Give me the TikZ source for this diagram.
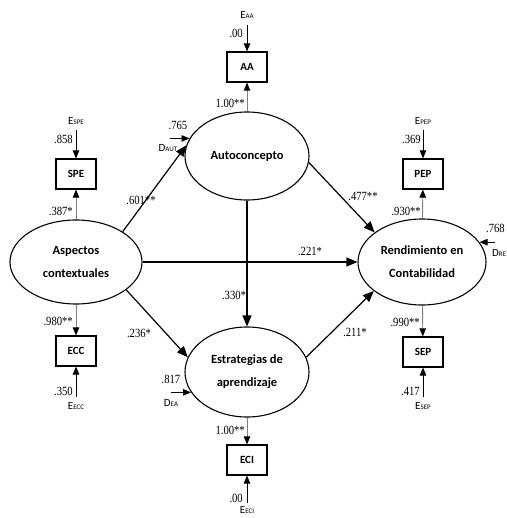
\documentclass[tikz,border=0pt]{standalone}
\usepackage{fontspec}
\setmainfont[FakeStretch=0.85]{Liberation Serif}
\newfontfamily\latfont{Carlito}
\usepackage{tikz}
\usetikzlibrary{shapes.geometric, arrows.meta, positioning}
\newcommand{\subl}[1]{{\fontsize{7}{7}\selectfont #1}}
\tikzstyle{latent} = [ellipse, draw=black, line width=1.1pt, inner sep=0pt, align=center, font=\latfont\bfseries\fontsize{12.5}{23}\selectfont]
\tikzstyle{observed} = [rectangle, draw=black, line width=1.2pt, minimum width=40pt, minimum height=30pt, inner sep=0pt, font=\latfont\bfseries\fontsize{11}{12}\selectfont]
\tikzstyle{arrow} = [line width=1.2pt, -{Triangle[length=11pt,width=9pt]}]
\tikzstyle{loading} = [draw=gray, line width=0.9pt, -{Triangle[length=8pt,width=6.5pt,color=black]}]
\tikzstyle{errarrow} = [line width=0.8pt, -{Triangle[length=8pt,width=6.5pt]}]
\tikzstyle{coef} = [inner sep=0pt, font=\fontsize{12.5}{13}\selectfont]
\tikzstyle{elabel} = [inner sep=0pt, font=\latfont\fontsize{11}{12}\selectfont]

\begin{document}
\begin{tikzpicture}[x=1pt, y=-1pt]
\useasboundingbox (0,0) rectangle (506,518);

% latent variables
\node (asp) [latent, minimum width=132pt, minimum height=84pt] at (76,262) {Aspectos\\contextuales};
\node (auto) [latent, minimum width=124pt, minimum height=88pt] at (247,156) {Autoconcepto};
\node (estr) [latent, minimum width=124pt, minimum height=90pt] at (247,372) {Estrategias de\\aprendizaje};
\node (rend) [latent, minimum width=128pt, minimum height=86pt] at (422,262) {Rendimiento en\\Contabilidad};

% indicators
\node (aa) [observed] at (247,67) {AA};
\node (spe) [observed] at (76,174) {SPE};
\node (pep) [observed] at (423,174) {PEP};
\node (ecc) [observed] at (76,351) {ECC};
\node (sep) [observed] at (423,352) {SEP};
\node (eci) [observed] at (247,460) {ECI};

% structural paths
\draw [arrow] (asp.33) -- (auto.170);
\draw [arrow] (asp) -- (rend);
\draw [arrow] (asp.-29) -- (estr.166);
\draw [arrow] (auto) -- (estr);
\draw [arrow] (auto.-6) -- (rend.148);
\draw [arrow] (estr.14) -- (rend.211);

\node (p1) [coef] at (141,200) {.601**};
\node (p2) [coef] at (310,251) {.221*};
\node (p3) [coef] at (139,333) {.236*};
\node (p4) [coef] at (234,295) {.330*};
\node (p5) [coef] at (363,196) {.477**};
\node (p6) [coef] at (355,332) {.211*};

% loadings
\draw [loading] (auto) -- (aa);
\draw [loading] (asp) -- (spe);
\draw [loading] (rend) -- (pep);
\draw [loading] (asp) -- (ecc);
\draw [loading] (rend) -- (sep);
\draw [loading] (estr) -- (eci);

\node (laa) [coef, anchor=east] at (245,103) {1.00**};
\node (lspe) [coef, anchor=east] at (73,211) {.387*};
\node (lpep) [coef, anchor=east] at (421,211) {.930**};
\node (lecc) [coef, anchor=east] at (73,321) {.980**};
\node (lsep) [coef, anchor=east] at (420,322) {.990**};
\node (leci) [coef, anchor=east] at (245,430) {1.00**};

% measurement errors
\coordinate (eaa) at (247,25);
\coordinate (espe) at (76,130);
\coordinate (epep) at (423,130);
\coordinate (eecc) at (76,397);
\coordinate (esep) at (423,397);
\coordinate (eeci) at (247,503);

\draw [errarrow] (eaa) -- (aa);
\draw [errarrow] (espe) -- (spe);
\draw [errarrow] (epep) -- (pep);
\draw [errarrow] (eecc) -- (ecc);
\draw [errarrow] (esep) -- (sep);
\draw [errarrow] (eeci) -- (eci);

\node (eaalab) [elabel, above=6pt of eaa] {E\subl{AA}};
\node (espelab) [elabel, above=5pt of espe] {E\subl{SPE}};
\node (epeplab) [elabel, above=5pt of epep] {E\subl{PEP}};
\node (eecclab) [elabel, below=5pt of eecc] {E\subl{ECC}};
\node (eseplab) [elabel, below=5pt of esep] {E\subl{SEP}};
\node (eecilab) [elabel, below=3pt of eeci] {E\subl{ECI}};

\node (vaa) [coef, anchor=east] at (243,33) {.00};
\node (vspe) [coef, anchor=east] at (73,139) {.858};
\node (vpep) [coef, anchor=east] at (421,139) {.369};
\node (vecc) [coef, anchor=east] at (73,391) {.350};
\node (vsep) [coef, anchor=east] at (420,391) {.417};
\node (veci) [coef, anchor=east] at (243,498) {.00};

% disturbances
\coordinate (daut) at ([xshift=-20pt]auto.163);
\coordinate (dea) at ([xshift=-20pt]estr.200);
\coordinate (dre) at ([xshift=15pt]rend.19);

\draw [errarrow] (daut) -- (auto.163);
\draw [errarrow] (dea) -- (estr.200);
\draw [errarrow] (dre) -- (rend.19);

\node (vaut) [coef] at (178,125) {.765};
\node (daulab) [elabel] at (168,148) {D\subl{AUT}};
\node (vea) [coef] at (171,379) {.817};
\node (dealab) [elabel] at (171,403) {D\subl{EA}};
\node (vre) [coef, anchor=east] at (505,228) {.768};
\node (drelab) [elabel, anchor=west] at (492,253) {D\subl{RE}};

\end{tikzpicture}
\end{document}
